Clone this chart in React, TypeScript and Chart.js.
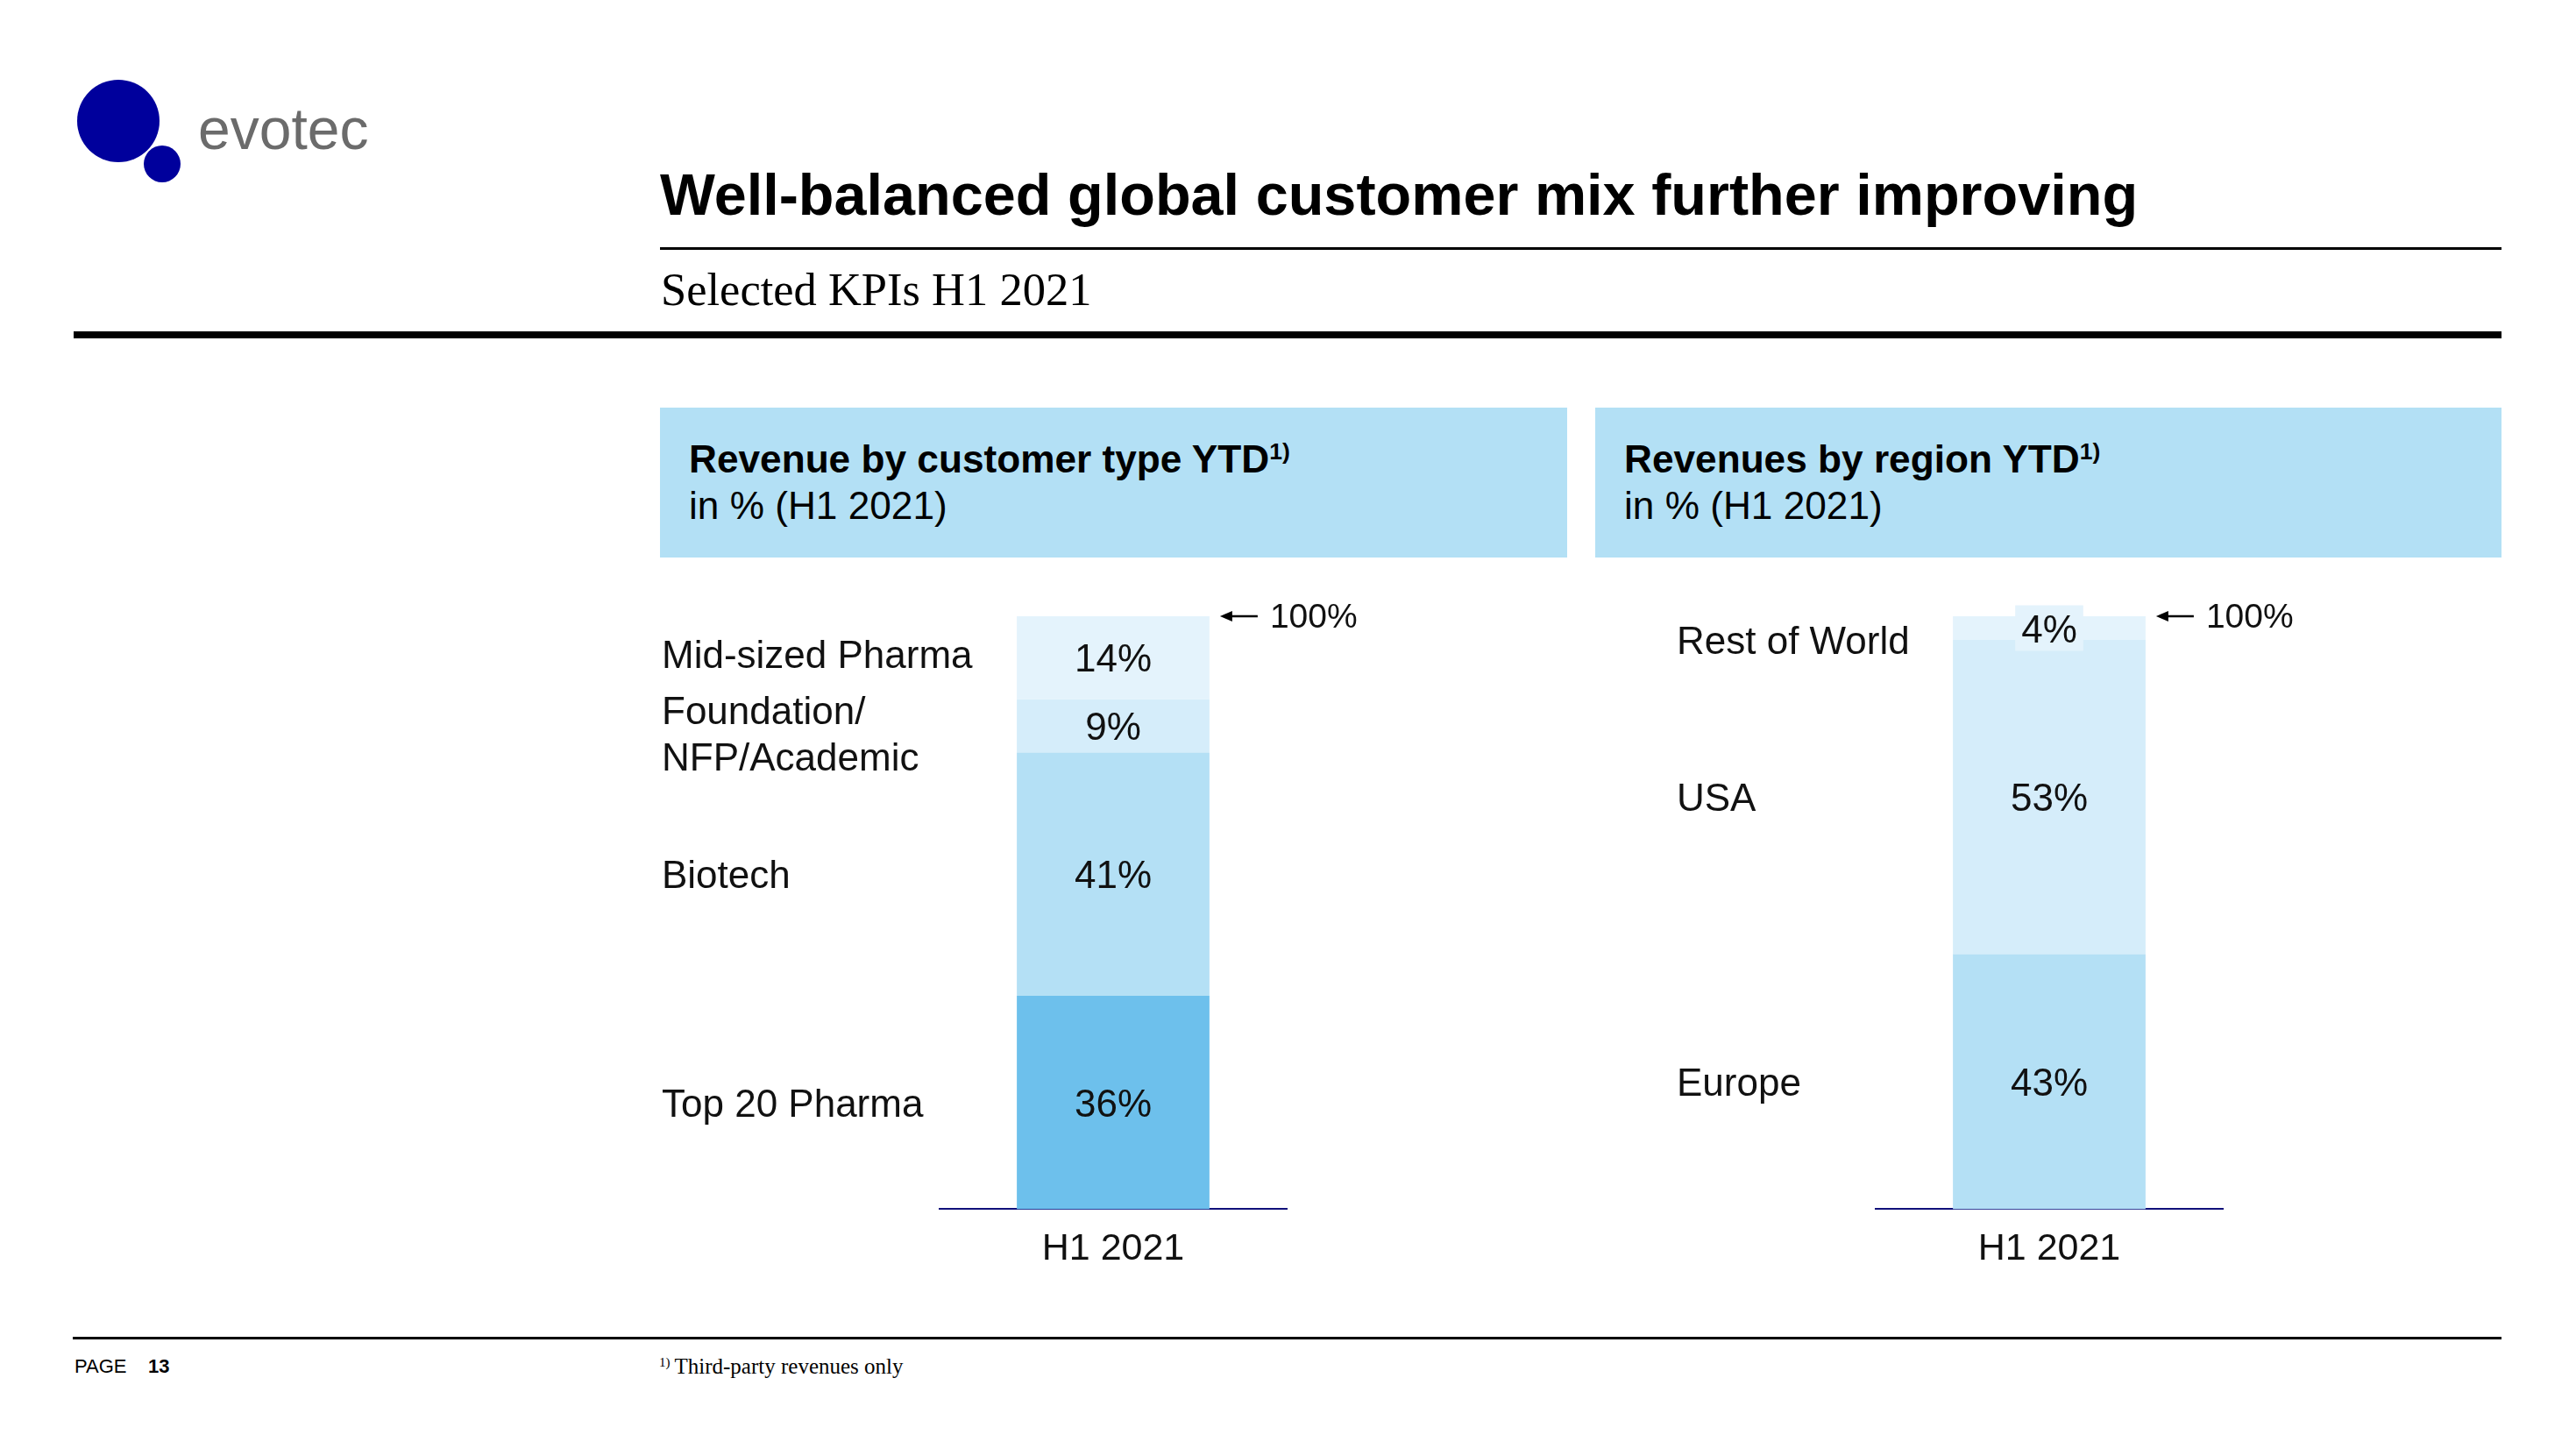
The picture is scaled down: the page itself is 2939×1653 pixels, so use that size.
import React, { useEffect, useRef } from 'react';
import { Chart, registerables } from 'chart.js';

Chart.register(...registerables);

// ---------- data ----------
const periods = ['H1 2021'];
const customerTypes = [['Top 20 Pharma'], ['Biotech'], ['Foundation/', 'NFP/Academic'], ['Mid-sized Pharma']];
const customerShares = [36, 41, 9, 14];
const regionNames = [['Europe'], ['USA'], ['Rest of World']];
const regionShares = [43, 53, 4];
const totalMark = 100;
const totalLabel = '100%';

// ---------- styles ----------
const SANS = '"Liberation Sans", Arial, Helvetica, sans-serif';
const SERIF = '"Liberation Serif", "Times New Roman", serif';
const customerColors = ['#6dc0ec', '#b4e0f5', '#d5edfa', '#e4f3fc'];
const regionColors = ['#b4e0f5', '#d5edfa', '#e4f3fc'];
const NAVY = '#10107a';
const HEADER_BG = '#b3e0f5';

const annotatePlugin = {
  id: 'annotate',
  afterDatasetsDraw(chart: any, _args: any, opts: any) {
    const { ctx, chartArea } = chart;
    const yScale = chart.scales.y;
    ctx.save();
    ctx.textBaseline = 'middle';
    let barRight = 0;
    chart.data.datasets.forEach((ds: any, i: number) => {
      const meta = chart.getDatasetMeta(i);
      meta.data.forEach((el: any, j: number) => {
        const p = el.getProps(['x', 'y', 'base', 'width'], true);
        const cy = (p.y + p.base) / 2;
        const text = ds.data[j] + '%';
        ctx.font = `44px ${SANS}`;
        const h = Math.abs(p.base - p.y);
        if (h < 50) {
          const w = ctx.measureText(text).width + 14;
          ctx.fillStyle = ds.backgroundColor;
          ctx.fillRect(p.x - w / 2, cy - 26, w, 52);
        }
        ctx.fillStyle = '#111111';
        ctx.textAlign = 'center';
        ctx.fillText(text, p.x, cy + 4);
        barRight = Math.max(barRight, p.x + p.width / 2);

        // category label on the left
        const lines: string[] = ds.labelLines || [ds.label];
        const lh = 52.8;
        const dy = (opts.labelOffsets && opts.labelOffsets[i]) || 0;
        ctx.textAlign = 'left';
        ctx.font = `44px ${SANS}`;
        lines.forEach((ln, k) => {
          const ly = cy + dy + (k - (lines.length - 1) / 2) * lh;
          ctx.fillText(ln, chartArea.left - opts.labelGap, ly + 4);
        });
      });
    });

    // "<- 100%" marker
    const yTop = yScale.getPixelForValue(totalMark);
    const tipX = barRight + 12;
    const tailX = barRight + 55;
    ctx.strokeStyle = '#000';
    ctx.lineWidth = 2.5;
    ctx.beginPath();
    ctx.moveTo(tipX + 8, yTop);
    ctx.lineTo(tailX, yTop);
    ctx.stroke();
    ctx.fillStyle = '#000';
    ctx.beginPath();
    ctx.moveTo(tipX, yTop);
    ctx.lineTo(tipX + 14, yTop - 6);
    ctx.lineTo(tipX + 14, yTop + 6);
    ctx.closePath();
    ctx.fill();
    ctx.font = `39px ${SANS}`;
    ctx.textAlign = 'left';
    ctx.fillStyle = '#111111';
    ctx.fillText(totalLabel, barRight + 69, yTop + 2);
    ctx.restore();
  },
};

function StackChart(props: {
  names: string[][];
  values: number[];
  colors: string[];
  left: number;
  labelGap: number;
  labelOffsets: number[];
}) {
  const ref = useRef<HTMLCanvasElement>(null);
  useEffect(() => {
    const canvas = ref.current;
    if (!canvas) return;
    const chart = new Chart(canvas, {
      type: 'bar',
      data: {
        labels: periods,
        datasets: props.values.map((v, i) => ({
          label: props.names[i].join(' '),
          labelLines: props.names[i],
          data: [v],
          backgroundColor: props.colors[i],
          borderWidth: 0,
          categoryPercentage: 1,
          barPercentage: 0.555,
        })) as any,
      },
      options: {
        animation: false,
        responsive: false,
        maintainAspectRatio: false,
        devicePixelRatio: 1,
        layout: { padding: { left: 332, right: 332, top: 43, bottom: 9 } },
        plugins: {
          legend: { display: false },
          tooltip: { enabled: false },
          annotate: { labelGap: props.labelGap, labelOffsets: props.labelOffsets },
        } as any,
        scales: {
          x: {
            stacked: true,
            grid: { display: false, drawTicks: false },
            border: { display: true, color: NAVY, width: 2 },
            ticks: { color: '#111111', font: { family: SANS, size: 43 }, padding: 20 },
          },
          y: { stacked: true, display: false, min: 0, max: 100 },
        },
      },
      plugins: [annotatePlugin],
    });
    return () => chart.destroy();
  }, []);
  return (
    <canvas
      ref={ref}
      width={1060}
      height={820}
      style={{ position: 'absolute', left: props.left, top: 660, width: 1060, height: 820 }}
    />
  );
}

function Txt(props: {
  x: number;
  base: number;
  size: number;
  serif?: boolean;
  bold?: boolean;
  color?: string;
  children: any;
}) {
  const k = props.serif ? 0.8375 : 0.8465;
  return (
    <div
      style={{
        position: 'absolute',
        left: props.x,
        top: props.base - k * props.size,
        fontSize: props.size,
        lineHeight: `${props.size}px`,
        fontFamily: props.serif ? SERIF : SANS,
        fontWeight: props.bold ? 'bold' : 'normal',
        color: props.color || '#000',
        whiteSpace: 'nowrap',
      }}
    >
      {props.children}
    </div>
  );
}

const Sup = (p: { children: any }) => (
  <span style={{ fontSize: '0.6em', position: 'relative', top: '-0.55em' }}>{p.children}</span>
);

function Rect(p: { x: number; y: number; w: number; h: number; c: string }) {
  return <div style={{ position: 'absolute', left: p.x, top: p.y, width: p.w, height: p.h, background: p.c }} />;
}

export default function App() {
  return (
    <div
      style={{
        position: 'absolute',
        left: 0,
        top: 0,
        width: 2939,
        height: 1653,
        background: '#fff',
        overflow: 'hidden',
      }}
    >
      {/* logo */}
      <div style={{ position: 'absolute', left: 88, top: 91, width: 94, height: 94, borderRadius: '50%', background: '#00009c' }} />
      <div style={{ position: 'absolute', left: 164, top: 166, width: 42, height: 42, borderRadius: '50%', background: '#00009c' }} />
      <Txt x={226} base={170} size={66} color="#6b6b6b">evotec</Txt>

      {/* title */}
      <Txt x={753} base={245} size={66.6} bold>Well-balanced global customer mix further improving</Txt>
      <Rect x={753} y={282} w={2101} h={3} c="#000" />
      <Txt x={754} base={348} size={52.5} serif>Selected KPIs H1 2021</Txt>
      <Rect x={84} y={378} w={2770} h={8} c="#000" />

      {/* panel headers */}
      <Rect x={753} y={465} w={1035} h={171} c={HEADER_BG} />
      <Txt x={786} base={539} size={44.2} bold>Revenue by customer type YTD<Sup>1)</Sup></Txt>
      <Txt x={786} base={592} size={44.2}>in % (H1 2021)</Txt>

      <Rect x={1820} y={465} w={1034} h={171} c={HEADER_BG} />
      <Txt x={1853} base={539} size={44.2} bold>Revenues by region YTD<Sup>1)</Sup></Txt>
      <Txt x={1853} base={592} size={44.2}>in % (H1 2021)</Txt>

      {/* charts */}
      <StackChart names={customerTypes} values={customerShares} colors={customerColors} left={740} labelGap={317} labelOffsets={[0, 0, 8, -4]} />
      <StackChart names={regionNames} values={regionShares} colors={regionColors} left={1808} labelGap={227} labelOffsets={[0, 0, 13]} />

      {/* footer */}
      <Rect x={83} y={1525} w={2771} h={3} c="#000" />
      <Txt x={85} base={1567} size={22}>PAGE</Txt>
      <Txt x={169} base={1567} size={22} bold>13</Txt>
      <Txt x={752} base={1567} size={25} serif>
        <span style={{ fontSize: 15, position: 'relative', top: -8, marginRight: 5 }}>1)</span>Third-party revenues only
      </Txt>
    </div>
  );
}
